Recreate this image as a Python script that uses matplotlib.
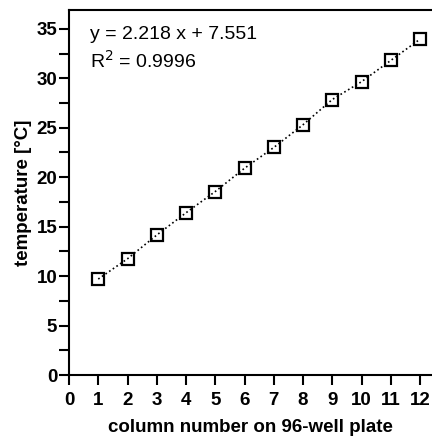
import matplotlib
matplotlib.use("Agg")
import matplotlib.pyplot as plt
from matplotlib.ticker import MultipleLocator

plt.rcParams['font.family'] = ['Liberation Sans', 'DejaVu Sans']

# column number on the plate and measured temperature
columns = [1, 2, 3, 4, 5, 6, 7, 8, 9, 10, 11, 12]
temps = [9.7, 11.75, 14.15, 16.4, 18.55, 20.9, 23.0, 25.3, 27.85, 29.65, 31.8, 33.95]
fit_text = "y = 2.218 x + 7.551"
r2_text = "R$^2$ = 0.9996"

fig = plt.figure(figsize=(4.32, 4.37), dpi=100)
ax = fig.add_axes([69/432, 62/437, 363/432, 365/437])

ax.plot(columns, temps, linestyle=':', color='black', linewidth=1.2,
        marker='s', markersize=9, markerfacecolor='none',
        markeredgecolor='black', markeredgewidth=1.6)

ax.set_xlim(0, 12.41)
ax.set_ylim(0, 36.9)
ax.set_xticks(range(0, 13))
ax.yaxis.set_major_locator(MultipleLocator(5))
ax.yaxis.set_minor_locator(MultipleLocator(2.5))

ax.spines['right'].set_visible(False)
for s in ['left', 'bottom', 'top']:
    ax.spines[s].set_linewidth(1.5)
ax.tick_params(which='both', direction='out', width=1.5, length=7)
ax.tick_params(axis='x', which='major', labelsize=13.5, pad=5.5)
ax.tick_params(axis='y', which='major', labelsize=13.5, pad=1.5)
for lbl in ax.get_xticklabels() + ax.get_yticklabels():
    lbl.set_fontweight('bold')

ax.set_xlabel('column number on 96-well plate', fontsize=13.5, fontweight='bold', labelpad=7)
ax.set_ylabel('temperature [°C]', fontsize=13.5, fontweight='bold', labelpad=3)

ax.text(0.72, 34.4, fit_text, fontsize=14, va='center', ha='left')
ax.text(0.72, 31.8, r2_text, fontsize=14, va='center', ha='left')

fig.savefig('out.png', dpi=100)
